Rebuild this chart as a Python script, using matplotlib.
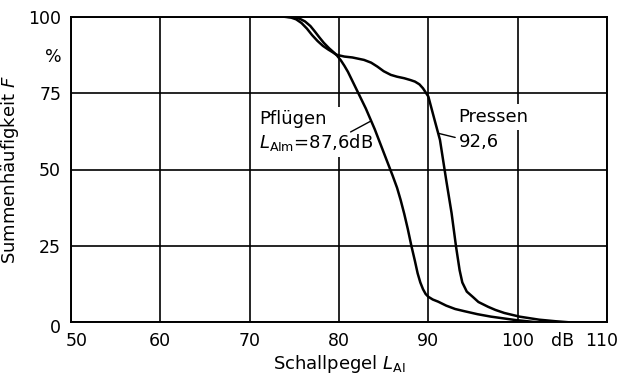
import numpy as np
import matplotlib
matplotlib.use("Agg")
import matplotlib.pyplot as plt
from matplotlib.transforms import ScaledTranslation

plt.rcParams["font.family"] = ["DejaVu Sans"]
plt.rcParams["mathtext.fontset"] = "dejavusans"

# Cumulative frequency F (%) versus A-weighted sound level (dB)
pfluegen_level = [74.3, 75.0, 75.6, 76.2, 76.8, 77.3, 77.8, 78.3, 78.9, 79.4,
                  79.7, 80.2, 80.6, 81.0, 82.0, 83.0, 84.0, 85.0, 86.0, 86.5,
                  86.9, 87.3, 87.7, 88.1, 88.5, 88.8, 89.1, 89.4, 89.7, 90.0,
                  90.5, 91.1, 92.0, 93.0, 94.0, 95.5, 97.0, 99.7, 102.0]
pfluegen_freq = [100.0, 99.8, 99.4, 98.5, 97.0, 95.2, 93.3, 91.5, 89.7, 88.4,
                 87.6, 85.8, 84.0, 82.0, 76.0, 70.0, 63.2, 55.6, 48.0, 44.0,
                 40.0, 35.5, 30.5, 25.0, 20.0, 16.0, 13.0, 10.8, 9.2, 8.3,
                 7.4, 6.7, 5.4, 4.3, 3.6, 2.6, 1.8, 0.7, 0.0]

pressen_level = [74.0, 74.6, 75.2, 75.8, 76.4, 77.0, 77.6, 78.2, 78.8, 79.3,
                 79.7, 80.6, 81.5, 82.8, 83.6, 84.3, 85.0, 85.8, 86.5, 87.3,
                 88.0, 88.5, 89.0, 89.4, 90.0, 90.3, 90.7, 91.3, 92.0, 92.6,
                 93.1, 93.5, 93.8, 94.3, 95.0, 95.6, 96.7, 97.5, 98.5, 100.2,
                 102.4, 104.2, 105.5]
pressen_freq = [100.0, 99.8, 99.2, 98.0, 96.2, 94.0, 92.1, 90.5, 89.3, 88.4,
                87.6, 87.0, 86.7, 85.9, 85.0, 83.7, 82.2, 81.0, 80.4, 79.9,
                79.3, 78.8, 77.9, 76.6, 73.9, 70.6, 66.2, 59.7, 46.5, 35.7,
                24.7, 17.0, 13.0, 10.0, 8.2, 6.6, 5.0, 4.0, 3.0, 1.8,
                0.8, 0.3, 0.0]

x_ticks = [50, 60, 70, 80, 90, 100, 110]
y_ticks = [0, 25, 50, 75, 100]

fig = plt.figure(figsize=(6.22, 3.75), dpi=100)
ax = fig.add_axes([0.114, 0.141, 0.862, 0.814])

ax.set_xlim(50, 110)
ax.set_ylim(0, 100)
ax.set_xticks(x_ticks)
ax.set_xticklabels([str(v) for v in x_ticks])
ax.set_yticks(y_ticks)
ax.set_yticklabels([str(v) for v in y_ticks])
# unit labels sit between the last two tick labels
ax.set_xticks([105], minor=True)
ax.set_xticklabels(["dB"], minor=True)
ax.set_yticks([87.5], minor=True)
ax.set_yticklabels(["%"], minor=True)

ax.tick_params(which="both", length=0, labelsize=12.5, colors="black")
ax.tick_params(axis="x", which="both", pad=7)
ax.tick_params(axis="y", which="both", pad=7)
ax.grid(which="major", color="black", linewidth=1.2, zorder=1)
ax.set_axisbelow(True)
for s in ax.spines.values():
    s.set_linewidth(1.4)
    s.set_color("black")

# nudge the corner labels away from the frame corners
xl = ax.get_xticklabels()
xl[0].set_transform(xl[0].get_transform() + ScaledTranslation(4 / 72, 0, fig.dpi_scale_trans))
xl[-1].set_transform(xl[-1].get_transform() + ScaledTranslation(-4 / 72, 0, fig.dpi_scale_trans))
yl = ax.get_yticklabels()
yl[0].set_transform(yl[0].get_transform() + ScaledTranslation(0, -3 / 72, fig.dpi_scale_trans))

ax.plot(pfluegen_level, pfluegen_freq, color="black", linewidth=1.8, zorder=5)
ax.plot(pressen_level, pressen_freq, color="black", linewidth=1.8, zorder=5)

ax.set_xlabel(r"Schallpegel $L_{\mathrm{AI}}$", fontsize=13, labelpad=2)
ax.set_ylabel(r"Summenhäufigkeit $F$", fontsize=13)
ax.yaxis.set_label_coords(-0.093, 0.5)

white = dict(facecolor="white", edgecolor="none", pad=3)

ax.text(71.1, 62.5, "Pflügen\n$L_{\\mathrm{AIm}}$=87,6dB", fontsize=13,
        ha="left", va="center", linespacing=1.25, bbox=white, zorder=3)
ax.annotate("", xy=(83.6, np.interp(83.6, pfluegen_level, pfluegen_freq)),
            xytext=(81.3, 62.3),
            arrowprops=dict(arrowstyle="-", color="black", linewidth=1.0,
                            shrinkA=0, shrinkB=0), zorder=4)

ax.text(93.4, 67.2, "Pressen", fontsize=13, ha="left", va="center",
        bbox=white, zorder=3)
ax.text(93.4, 59.0, "92,6", fontsize=13, ha="left", va="center", zorder=3)
ax.annotate("", xy=(91.1, np.interp(91.1, pressen_level, pressen_freq)),
            xytext=(93.0, 60.5),
            arrowprops=dict(arrowstyle="-", color="black", linewidth=1.0,
                            shrinkA=0, shrinkB=0), zorder=4)

fig.savefig("out.png", dpi=100)
